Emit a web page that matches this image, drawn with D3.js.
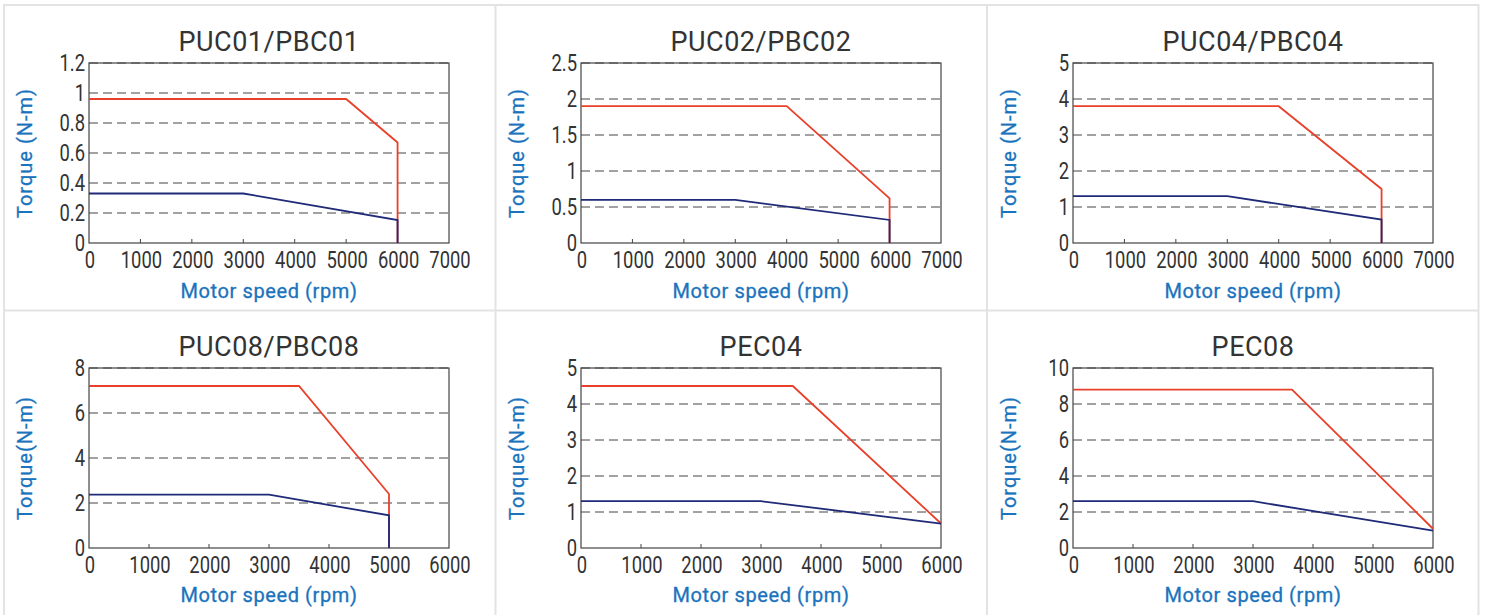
<!DOCTYPE html>
<html lang="en">
<head>
  <meta charset="UTF-8">
  <title>Motor torque curves</title>
  <script src="https://d3js.org/d3.v7.min.js"></script>
  <style>
    body { margin: 0; background: #fff; }
    .tick-label { font-family: Roboto, sans-serif; font-size: 23px; fill: #333; }
    .title { font-family: Roboto, sans-serif; font-size: 27px; fill: #333; }
    .axis-title { font-family: Roboto, sans-serif; font-size: 20px; fill: #1a73bd; stroke: #1a73bd; stroke-width: 0.3px; }
  </style>
</head>
<body>
<svg width="1486" height="615"></svg>
<script>
// chart data
const titles = ["PUC01/PBC01", "PUC02/PBC02", "PUC04/PBC04", "PUC08/PBC08", "PEC04", "PEC08"];
const yTitles = ["Torque (N-m)", "Torque (N-m)", "Torque (N-m)", "Torque(N-m)", "Torque(N-m)", "Torque(N-m)"];
const xTitle = "Motor speed (rpm)";
const xMax = [7000, 7000, 7000, 6000, 6000, 6000];
const yTicks = [
  [0, 0.2, 0.4, 0.6, 0.8, 1, 1.2],
  [0, 0.5, 1, 1.5, 2, 2.5],
  [0, 1, 2, 3, 4, 5],
  [0, 2, 4, 6, 8],
  [0, 1, 2, 3, 4, 5],
  [0, 2, 4, 6, 8, 10]
];
// peak (red) torque curves: [rpm, N-m]
const peakCurves = [
  [[0, 0.96], [5000, 0.96], [6000, 0.67], [6000, 0]],
  [[0, 1.9], [4000, 1.9], [6000, 0.62], [6000, 0]],
  [[0, 3.8], [4000, 3.8], [6000, 1.5], [6000, 0]],
  [[0, 7.2], [3500, 7.2], [5000, 2.4], [5000, 0]],
  [[0, 4.5], [3530, 4.5], [6000, 0.68]],
  [[0, 8.8], [3650, 8.8], [6000, 1.07]]
];
// rated (navy) torque curves
const ratedCurves = [
  [[0, 0.33], [3000, 0.33], [6000, 0.153], [6000, 0]],
  [[0, 0.6], [3000, 0.6], [6000, 0.32], [6000, 0]],
  [[0, 1.3], [3000, 1.3], [6000, 0.65], [6000, 0]],
  [[0, 2.37], [3000, 2.37], [5000, 1.45], [5000, 0]],
  [[0, 1.3], [3000, 1.3], [6000, 0.68]],
  [[0, 2.6], [3000, 2.6], [6000, 0.96]]
];

const svg = d3.select("svg");
const cellX = [3, 495, 987], cellY = [5, 310];
const pw = 360, ph = 180;

// panel borders
const border = "#e3e3e3";
svg.append("line").attr("x1", 3).attr("x2", 1479).attr("y1", 5).attr("y2", 5)
  .attr("stroke", border).attr("stroke-width", 2);
svg.append("line").attr("x1", 3).attr("x2", 1479).attr("y1", 310.5).attr("y2", 310.5)
  .attr("stroke", border).attr("stroke-width", 2);
[4, 495.5, 987, 1478.5].forEach(x => {
  svg.append("line").attr("x1", x).attr("x2", x).attr("y1", 4).attr("y2", 615)
    .attr("stroke", border).attr("stroke-width", 2);
});

const lineGen = d3.line();
const squeeze = 0.8; // condensed look for the tick numbers

titles.forEach((t, i) => {
  const col = i % 3, row = Math.floor(i / 3);
  const left = cellX[col] + 86, top = cellY[row] + 58;
  const g = svg.append("g").attr("transform", `translate(${left},${top})`);

  const x = d3.scaleLinear().domain([0, xMax[i]]).range([0, pw]);
  const yt = yTicks[i];
  const y = d3.scaleLinear().domain([0, yt[yt.length - 1]]).range([ph, 0]);

  // dashed grid
  g.selectAll(".grid").data(yt.slice(1)).enter().append("line")
    .attr("x1", 0).attr("x2", pw)
    .attr("y1", d => y(d)).attr("y2", d => y(d))
    .attr("stroke", "#444").attr("stroke-width", 1)
    .attr("stroke-dasharray", "9,5");

  // frame
  g.append("rect").attr("width", pw).attr("height", ph)
    .attr("fill", "none").attr("stroke", "#444").attr("stroke-width", 1.2);

  // x ticks (inward)
  const xt = d3.range(0, xMax[i] + 1, 1000);
  g.selectAll(".xtick").data(xt.slice(1, -1)).enter().append("line")
    .attr("x1", d => x(d)).attr("x2", d => x(d))
    .attr("y1", ph).attr("y2", ph - 4)
    .attr("stroke", "#444").attr("stroke-width", 1);

  g.selectAll(".xl").data(xt).enter().append("text")
    .attr("class", "tick-label")
    .attr("transform", d => `translate(${x(d) + 1},${ph + 25}) scale(${squeeze},1)`)
    .attr("text-anchor", "middle")
    .text(d => d);

  g.selectAll(".yl").data(yt).enter().append("text")
    .attr("class", "tick-label")
    .attr("transform", d => `translate(-4,${y(d)}) scale(${squeeze},1)`)
    .attr("dy", "0.36em")
    .attr("text-anchor", "end")
    .text(d => d);

  // curves
  g.append("path").attr("d", lineGen(peakCurves[i].map(p => [x(p[0]), y(p[1])])))
    .attr("fill", "none").attr("stroke", "#e8402a").attr("stroke-width", 1.8);
  g.append("path").attr("d", lineGen(ratedCurves[i].map(p => [x(p[0]), y(p[1])])))
    .attr("fill", "none").attr("stroke", "#1f2a78").attr("stroke-width", 1.8);

  // titles
  g.append("text").attr("class", "title")
    .attr("x", pw / 2).attr("y", -12)
    .attr("text-anchor", "middle")
    .attr("letter-spacing", "0.5px")
    .text(t);

  g.append("text").attr("class", "axis-title")
    .attr("x", pw / 2).attr("y", row === 0 ? ph + 55 : ph + 54)
    .attr("text-anchor", "middle")
    .attr("letter-spacing", "0.6px")
    .text(xTitle);

  g.append("text").attr("class", "axis-title")
    .attr("transform", `translate(${-64},${ph / 2}) rotate(-90)`)
    .attr("text-anchor", "middle")
    .attr("dy", "0.35em")
    .attr("letter-spacing", "1px")
    .text(yTitles[i]);
});
</script>
</body>
</html>
